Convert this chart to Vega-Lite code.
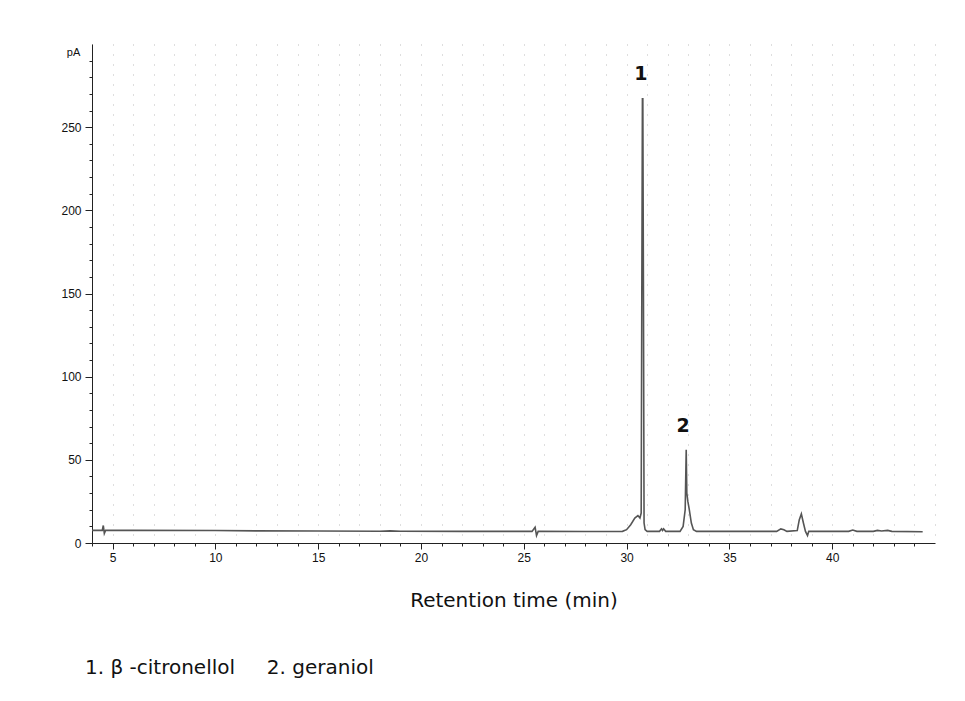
{
  "$schema": "https://vega.github.io/schema/vega-lite/v6.json",
  "width": 843,
  "height": 499,
  "autosize": {"type": "none"},
  "padding": {"left": 92, "top": 44, "right": 30, "bottom": 158},
  "background": "white",
  "title": {
    "text": "1. β -citronellol\u00a0\u00a0\u00a0\u00a0\u00a02. geraniol",
    "orient": "bottom",
    "anchor": "start",
    "fontSize": 20,
    "font": "DejaVu Sans",
    "fontWeight": "normal",
    "color": "#111",
    "offset": 48,
    "dx": 24
  },
  "config": {
    "view": {"stroke": null},
    "axis": {"labelFont": "Liberation Sans", "labelFontSize": 12, "labelColor": "#111", "domainColor": "#222", "tickColor": "#222"}
  },
  "datasets": {
    "trace": [
      {"t": 4.0, "v": 7.6}, {"t": 4.5, "v": 7.6}, {"t": 4.55, "v": 10.5}, {"t": 4.6, "v": 5.8}, {"t": 4.66, "v": 7.6},
      {"t": 6, "v": 7.6}, {"t": 10, "v": 7.5}, {"t": 12, "v": 7.3}, {"t": 15, "v": 7.2}, {"t": 18, "v": 7.1},
      {"t": 18.5, "v": 7.3}, {"t": 19, "v": 7.1}, {"t": 22, "v": 7.0}, {"t": 25.4, "v": 7.0}, {"t": 25.55, "v": 9.5},
      {"t": 25.62, "v": 4.5}, {"t": 25.7, "v": 7.0}, {"t": 28, "v": 6.9}, {"t": 29.8, "v": 7.0}, {"t": 30.0, "v": 8.0},
      {"t": 30.2, "v": 11}, {"t": 30.4, "v": 15}, {"t": 30.55, "v": 16.5}, {"t": 30.65, "v": 15}, {"t": 30.71, "v": 18},
      {"t": 30.74, "v": 150}, {"t": 30.77, "v": 267}, {"t": 30.79, "v": 267}, {"t": 30.82, "v": 150}, {"t": 30.85, "v": 12}, {"t": 30.9, "v": 8},
      {"t": 31.0, "v": 7}, {"t": 31.6, "v": 7}, {"t": 31.7, "v": 8.5}, {"t": 31.75, "v": 7.5}, {"t": 31.8, "v": 8.5},
      {"t": 31.9, "v": 7}, {"t": 32.6, "v": 7}, {"t": 32.75, "v": 10}, {"t": 32.85, "v": 20}, {"t": 32.9, "v": 56},
      {"t": 32.93, "v": 30}, {"t": 32.98, "v": 25}, {"t": 33.05, "v": 20}, {"t": 33.15, "v": 12}, {"t": 33.25, "v": 8},
      {"t": 33.4, "v": 7}, {"t": 37.3, "v": 7}, {"t": 37.5, "v": 8.5}, {"t": 37.65, "v": 8}, {"t": 37.8, "v": 7},
      {"t": 38.3, "v": 7.5}, {"t": 38.4, "v": 14}, {"t": 38.5, "v": 17.5}, {"t": 38.6, "v": 12}, {"t": 38.7, "v": 7},
      {"t": 38.8, "v": 4.5}, {"t": 38.86, "v": 7}, {"t": 40.8, "v": 7}, {"t": 41.0, "v": 7.8}, {"t": 41.2, "v": 7},
      {"t": 42.0, "v": 7}, {"t": 42.2, "v": 7.6}, {"t": 42.4, "v": 7.2}, {"t": 42.7, "v": 7.6}, {"t": 42.9, "v": 7},
      {"t": 44.4, "v": 6.8}
    ],
    "peaks": [
      {"t": 30.7, "v": 282, "label": "1"},
      {"t": 32.75, "v": 70.5, "label": "2"}
    ]
  },
  "layer": [
    {
      "data": {"name": "trace"},
      "mark": {"type": "line", "color": "#555", "strokeWidth": 1.6, "interpolate": "linear"},
      "encoding": {
        "x": {
          "field": "t", "type": "quantitative",
          "scale": {"domain": [4, 45], "nice": false, "zero": false},
          "axis": {
            "title": "Retention time (min)",
            "titleFont": "DejaVu Sans", "titleFontSize": 20, "titleFontWeight": "normal", "titleColor": "#111",
            "titlePadding": 27,
            "tickCount": 500,
            "format": "d",
            "values": [4,4.5,5,5.5,6,6.5,7,7.5,8,8.5,9,9.5,10,10.5,11,11.5,12,12.5,13,13.5,14,14.5,15,15.5,16,16.5,17,17.5,18,18.5,19,19.5,20,20.5,21,21.5,22,22.5,23,23.5,24,24.5,25,25.5,26,26.5,27,27.5,28,28.5,29,29.5,30,30.5,31,31.5,32,32.5,33,33.5,34,34.5,35,35.5,36,36.5,37,37.5,38,38.5,39,39.5,40,40.5,41,41.5,42,42.5,43,43.5,44,44.5,45],
            "labelExpr": "(datum.value % 5 === 0 && datum.value < 45) ? datum.label : ''",
            "labelOverlap": false,
            "labelFlush": false,
            "labelPadding": 3,
            "grid": true, "gridDash": [1, 9], "gridColor": "#bdbdbd", "gridWidth": 1,
            "tickSize": {"condition": {"test": "datum.value % 5 === 0", "value": 6}, "value": 3},
            "tickOpacity": {"condition": {"test": "datum.value % 1 !== 0 || datum.value >= 45", "value": 0}, "value": 1}
          }
        },
        "y": {
          "field": "v", "type": "quantitative",
          "scale": {"domain": [0, 300], "nice": false},
          "axis": {
            "title": "pA", "titleAngle": 0, "titleX": -19, "titleY": 8, "titleAlign": "center", "titleBaseline": "middle",
            "titleFont": "Liberation Sans", "titleFontSize": 11, "titleFontWeight": "normal", "titleColor": "#111",
            "tickCount": 500,
            "format": "d",
            "values": [0,10,20,30,40,50,60,70,80,90,100,110,120,130,140,150,160,170,180,190,200,210,220,230,240,250,260,270,280,290],
            "labelExpr": "datum.value % 50 === 0 ? datum.label : ''",
            "labelOverlap": false,
            "labelFlush": false,
            "labelPadding": 4,
            "grid": false,
            "tickSize": {"condition": {"test": "datum.value % 50 === 0", "value": 7}, "value": 3}
          }
        }
      }
    },
    {
      "data": {"name": "peaks"},
      "mark": {"type": "text", "font": "DejaVu Sans", "fontSize": 19, "fontWeight": "bold", "color": "#111", "baseline": "middle", "align": "center"},
      "encoding": {
        "x": {"field": "t", "type": "quantitative"},
        "y": {"field": "v", "type": "quantitative"},
        "text": {"field": "label"}
      }
    }
  ]
}
